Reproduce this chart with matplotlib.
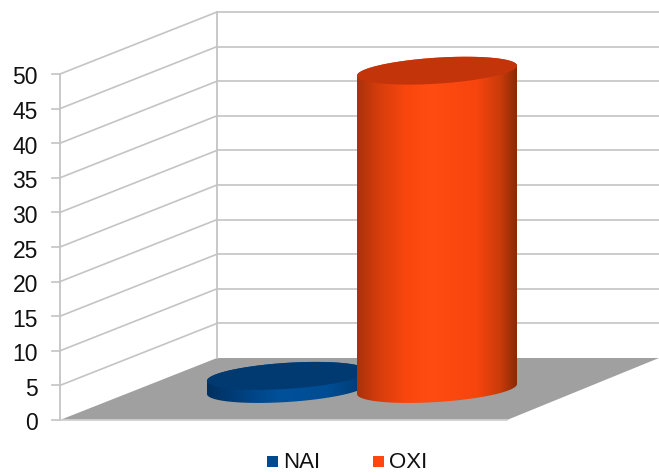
import numpy as np
import matplotlib
matplotlib.use("Agg")
import matplotlib.pyplot as plt
from matplotlib.colors import LinearSegmentedColormap
from matplotlib.patches import Polygon, Rectangle

plt.rcParams['font.family'] = ['Liberation Sans', 'DejaVu Sans']

# Date
categories = ["NAI", "OXI"]
values = [1.9, 46]
ticks = [0, 5, 10, 15, 20, 25, 30, 35, 40, 45, 50]

# Geometrie 3D in pixeli
front_x, front_y = 60, 420
back_x, back_y = 217, 358
right_front, right_back = 507, 659
px_per_unit = 6.92
base_y = 389
centers = [287, 437]
half_w = 80
half_h = 13
slope = 5 / 80

GRID = "#c4c4c4"
FLOOR = "#a0a0a0"

body_cmaps = [
    LinearSegmentedColormap.from_list("nai", [(0, "#00305f"), (0.2, "#003f7c"), (0.45, "#00509a"),
                                              (0.75, "#004d94"), (1, "#003a72")]),
    LinearSegmentedColormap.from_list("oxi", [(0, "#a8320a"), (0.12, "#d23c0c"), (0.3, "#f8460e"),
                                              (0.45, "#ff4c12"), (0.75, "#f8450e"), (0.9, "#c83a0a"),
                                              (1, "#8a2a06")]),
]
top_colors = ["#003a70", "#c4340a"]
legend_colors = ["#004a8f", "#ff4510"]
legend_x = [267, 373]


def ellipse(cx, cy, t):
    return cx + half_w * np.cos(t), cy + half_h * np.sin(t) - half_w * np.cos(t) * slope


def draw_cylinder(ax, cx, value, cmap, top_color, z):
    top_y = base_y - value * px_per_unit
    # jos de la dreapta la stanga, apoi sus de la stanga la dreapta
    t = np.linspace(0, np.pi, 80)
    bx, by = ellipse(cx, base_y, t)
    tx, ty = ellipse(cx, top_y, t + np.pi)
    body = Polygon(np.column_stack([np.r_[bx, tx], np.r_[by, ty]]), closed=True, fc="none", ec="none", zorder=z)
    ax.add_patch(body)
    grad = np.linspace(0, 1, 256).reshape(1, -1)
    im = ax.imshow(grad, cmap=cmap, extent=[cx - half_w, cx + half_w, base_y + 20, top_y - 20],
                   aspect="auto", zorder=z)
    im.set_clip_path(body)
    t = np.linspace(0, 2 * np.pi, 160)
    ex, ey = ellipse(cx, top_y, t)
    ax.fill(ex, ey, color=top_color, lw=0, zorder=z + 0.5)


def main():
    fig = plt.figure(figsize=(6.59, 4.76), dpi=100)
    ax = fig.add_axes([0, 0, 1, 1])

    # podea
    ax.add_patch(Polygon([(front_x, front_y), (right_front, front_y), (right_back, back_y), (back_x, back_y)],
                         closed=True, fc=FLOOR, ec="none", zorder=1))

    # pereti si grila
    top_front = front_y - ticks[-1] * px_per_unit
    top_back = back_y - ticks[-1] * px_per_unit
    ax.plot([front_x, front_x], [front_y, top_front], color=GRID, lw=1.3, zorder=2)
    ax.plot([back_x, back_x], [back_y, top_back], color=GRID, lw=1.3, zorder=2)
    ax.plot([front_x, right_front], [front_y, front_y], color="#d0d0d0", lw=1.3, zorder=2)
    for v in ticks:
        yf = front_y - v * px_per_unit
        yb = back_y - v * px_per_unit
        ax.plot([52, front_x], [yf, yf], color=GRID, lw=1.2, zorder=2)
        if v > 0:
            ax.plot([front_x, back_x], [yf, yb], color=GRID, lw=1.2, zorder=2)
            ax.plot([back_x, right_back], [yb, yb], color=GRID, lw=1.2, zorder=2)
        ax.text(38, yf + 4, str(v), ha="right", va="center", fontsize=16.5, color="#111111")

    # OXI peste NAI
    for i, (cx, value, cmap, top_color) in enumerate(zip(centers, values, body_cmaps, top_colors)):
        draw_cylinder(ax, cx, value, cmap, top_color, 3 + i)

    # legenda
    for name, x, color in zip(categories, legend_x, legend_colors):
        ax.add_patch(Rectangle((x, 456), 11, 11, fc=color, ec="none"))
        ax.text(x + 16, 462, name, ha="left", va="center", fontsize=16, color="#111111")

    ax.set_xlim(0, 659)
    ax.set_ylim(476, 0)
    ax.axis("off")
    plt.savefig("out.png", dpi=100)
    plt.close()


if __name__ == "__main__":
    main()
